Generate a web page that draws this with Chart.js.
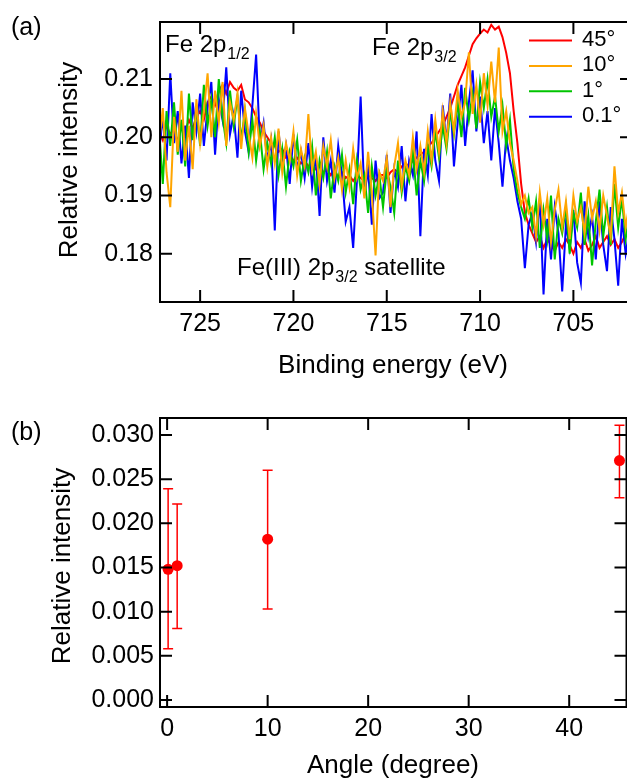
<!DOCTYPE html>
<html>
<head>
<meta charset="utf-8">
<script src="https://cdn.jsdelivr.net/npm/chart.js@4"></script>
<style>
  html, body { margin: 0; padding: 0; background: #fff; overflow: hidden; }
  #wrap { position: relative; width: 627px; height: 780px; overflow: hidden; }
  canvas { position: absolute; left: 0; }
  #spec { top: 0; }
  #sat { top: 390px; }
</style>
</head>
<body>
<div id="wrap">
  <canvas id="spec" width="632" height="390"></canvas>
  <canvas id="sat" width="632" height="390"></canvas>
</div>
<script>
// (a) Fe 2p spectra, binding energy in eV
const energy = [
  727.2,727.0,726.8,726.6,726.4,726.2,726.0,725.8,725.6,725.4,
  725.2,725.0,724.8,724.6,724.4,724.2,724.0,723.8,723.6,723.4,
  723.2,723.0,722.8,722.6,722.4,722.2,722.0,721.8,721.6,721.4,
  721.2,721.0,720.8,720.6,720.4,720.2,720.0,719.8,719.6,719.4,
  719.2,719.0,718.8,718.6,718.4,718.2,718.0,717.8,717.6,717.4,
  717.2,717.0,716.8,716.6,716.4,716.2,716.0,715.8,715.6,715.4,
  715.2,715.0,714.8,714.6,714.4,714.2,714.0,713.8,713.6,713.4,
  713.2,713.0,712.8,712.6,712.4,712.2,712.0,711.8,711.6,711.4,
  711.2,711.0,710.8,710.6,710.4,710.2,710.0,709.8,709.6,709.4,
  709.2,709.0,708.8,708.6,708.4,708.2,708.0,707.8,707.6,707.4,
  707.2,707.0,706.8,706.6,706.4,706.2,706.0,705.8,705.6,705.4,
  705.2,705.0,704.8,704.6,704.4,704.2,704.0,703.8,703.6,703.4,
  703.2,703.0,702.8,702.6,702.4,702.2,702.0
];

const int45 = [
  .2010,.1995,.2020,.2005,.2015,.1990,.2025,.2010,.2030,.2015,
  .2035,.2045,.2030,.2060,.2070,.2055,.2080,.2090,.2075,.2095,
  .2085,.2080,.2090,.2065,.2060,.2050,.2035,.2025,.2010,.2000,
  .1990,.1985,.1975,.1980,.1965,.1970,.1960,.1965,.1955,.1960,
  .1950,.1955,.1945,.1950,.1940,.1945,.1935,.1945,.1930,.1940,
  .1930,.1935,.1925,.1935,.1930,.1925,.1935,.1930,.1925,.1935,
  .1935,.1930,.1940,.1945,.1940,.1950,.1955,.1950,.1960,.1965,
  .1970,.1975,.1985,.1990,.2000,.2010,.2020,.2035,.2050,.2070,
  .2090,.2105,.2120,.2140,.2160,.2170,.2178,.2185,.2180,.2193,
  .2185,.2190,.2172,.2145,.2110,.2045,.1990,.1920,.1870,.1850,
  .1835,.1820,.1830,.1810,.1825,.1815,.1805,.1820,.1810,.1825,
  .1815,.1800,.1820,.1810,.1825,.1805,.1815,.1830,.1810,.1820,
  .1830,.1815,.1825,.1810,.1820,.1835,.1825
];

const int10 = [
  .1990,.2050,.1940,.1880,.2035,.1975,.2080,.1960,.2020,.1945,
  .2065,.1990,.2045,.2110,.2000,.2080,.2025,.2095,.1985,.2060,
  .2030,.2075,.1980,.2050,.2005,.1965,.2040,.1985,.2020,.1950,
  .2000,.1955,.2015,.1940,.1990,.1960,.2010,.1935,.1980,.1950,
  .2040,.1945,.1975,.1920,.1985,.1950,.1995,.1930,.1965,.1910,
  .1960,.1915,.1980,.1930,.1955,.1895,.1975,.1905,.1797,.1940,
  .1925,.1965,.1880,.1950,.1990,.1915,.1960,.1935,.2000,.1945,
  .1985,.1940,.2010,.1960,.2030,.1975,.2045,.1990,.2060,.2010,
  .2080,.2035,.2060,.2146,.2040,.2090,.2025,.2110,.2055,.2130,
  .2060,.2154,.2010,.2045,.1990,.1960,.1925,.1885,.1900,.1870,
  .1880,.1830,.1905,.1850,.1895,.1820,.1875,.1910,.1845,.1890,
  .1825,.1900,.1855,.1880,.1835,.1915,.1860,.1890,.1840,.1900,
  .1865,.1830,.1950,.1870,.1905,.1845,.1885
];

const int1 = [
  .2015,.1920,.2045,.1985,.2060,.1970,.2030,.1950,.2075,.1995,
  .2050,.1985,.2090,.2020,.2065,.2000,.2100,.2035,.1990,.2080,
  .2020,.2070,.1995,.2045,.1975,.2030,.1960,.2010,.1945,.1990,
  .1955,.2000,.1935,.1980,.1915,.1975,.1950,.1995,.1925,.1965,
  .1940,.1985,.1900,.1960,.1930,.1975,.1895,.1950,.1925,.1970,
  .1905,.1945,.1885,.1960,.1910,.1935,.1870,.1950,.1900,.1935,
  .1880,.1945,.1915,.1870,.1960,.1905,.1950,.1925,.1975,.1900,
  .1960,.1925,.1985,.1950,.2010,.1965,.2020,.1980,.2045,.2005,
  .2060,.2000,.2085,.2030,.2075,.2015,.2095,.2050,.2100,.2035,
  .2070,.2010,.2055,.1985,.2030,.1945,.1905,.1880,.1860,.1895,
  .1845,.1890,.1810,.1875,.1825,.1900,.1790,.1860,.1835,.1880,
  .1800,.1870,.1845,.1905,.1815,.1865,.1780,.1855,.1910,.1830,
  .1880,.1815,.1920,.1845,.1895,.1825,.1870
];

const int01 = [
  .1975,.2035,.1960,.2110,.1990,.2045,.1955,.2020,.1930,.2060,
  .2010,.2075,.1985,.2050,.2095,.1970,.2065,.2030,.2120,.2005,
  .2040,.1965,.2080,.2010,.1975,.2055,.2142,.1990,.2025,.1960,
  .1995,.1840,.2010,.1950,.1985,.1920,.2005,.1945,.1975,.1930,
  .1990,.1915,.1970,.1865,.2000,.1925,.1960,.1905,.1985,.1935,
  .1855,.1880,.1810,.1925,.2070,.1900,.1945,.1850,.1960,.1895,
  .1905,.1970,.1870,.1945,.1915,.1985,.1890,.1960,.1935,.2010,
  .1830,.1980,.1935,.2040,.1960,.1925,.2055,.1990,.2075,.1950,
  .2025,.2090,.1985,.2060,.2115,.2010,.2070,.1990,.2045,.1960,
  .2050,.1990,.1915,.2000,.1960,.1930,.1890,.1860,.1775,.1850,
  .1870,.1820,.1895,.1730,.1860,.1790,.1880,.1835,.1735,.1850,
  .1810,.1875,.1785,.1750,.1890,.1830,.1865,.1790,.1890,.1815,
  .1770,.1880,.1825,.1745,.1860,.1800,.1840
];

const energyTicks = [725, 720, 715, 710, 705];
const specTicks = [0.18, 0.19, 0.20, 0.21];

// (b) satellite intensity vs angle
const angleDeg = [0.1, 1, 10, 45];
const satIntensity = [0.0148, 0.0152, 0.0182, 0.0271];
const satLow = [0.0058, 0.0081, 0.0103, 0.0229];
const satHigh = [0.0239, 0.0222, 0.0260, 0.0311];
const angleTicks = [0, 10, 20, 30, 40];
const satTicks = [0, 0.005, 0.010, 0.015, 0.020, 0.025, 0.030];

const FONT = '"Liberation Sans", Arial, Helvetica, sans-serif';
Chart.defaults.font.family = FONT;
Chart.defaults.color = '#000';

function xy(xs, ys) {
  return xs.map((v, i) => ({ x: v, y: ys[i] }));
}

function axis(min, max, values, fmt, size, pad, extra) {
  return Object.assign({
    type: 'linear',
    min: min,
    max: max,
    grid: { display: false, drawTicks: false },
    border: { display: false },
    ticks: { font: { size: 25 }, color: '#000', padding: pad, callback: fmt, maxRotation: 0 },
    afterBuildTicks: s => { s.ticks = values.map(v => ({ value: v })); },
    afterFit: s => { if (s.isHorizontal()) s.height = size; else s.width = size; }
  }, extra || {});
}

// box with inward ticks on all four sides
const boxTicks = {
  id: 'boxTicks',
  afterDraw(chart) {
    const { ctx, chartArea: a } = chart;
    const x = chart.scales.x, y = chart.scales.y;
    const len = 12;
    ctx.save();
    ctx.strokeStyle = '#000';
    ctx.lineWidth = 2;
    ctx.beginPath();
    x.ticks.forEach(t => {
      const px = x.getPixelForValue(t.value);
      ctx.moveTo(px, a.bottom); ctx.lineTo(px, a.bottom - len);
      ctx.moveTo(px, a.top); ctx.lineTo(px, a.top + len);
    });
    y.ticks.forEach(t => {
      const py = y.getPixelForValue(t.value);
      ctx.moveTo(a.left, py); ctx.lineTo(a.left + len, py);
      ctx.moveTo(a.right, py); ctx.lineTo(a.right - len, py);
    });
    ctx.stroke();
    ctx.strokeRect(a.left, a.top, a.right - a.left, a.bottom - a.top);
    ctx.restore();
  }
};

function text(ctx, s, x, y, size, align) {
  ctx.font = size + 'px ' + FONT;
  ctx.textAlign = align || 'left';
  ctx.textBaseline = 'alphabetic';
  ctx.fillStyle = '#000';
  ctx.fillText(s, x, y);
  return ctx.measureText(s).width;
}

function vtitle(ctx, s, x, y, size) {
  ctx.save();
  ctx.translate(x, y);
  ctx.rotate(-Math.PI / 2);
  text(ctx, s, 0, 0, size, 'center');
  ctx.restore();
}

// main text + subscript (+ optional tail)
function subText(ctx, main, sub, tail, x, y) {
  let w = text(ctx, main, x, y, 24);
  w += 1;
  w += text(ctx, sub, x + w, y + 7, 16);
  if (tail) text(ctx, tail, x + w, y, 24);
}

const specText = {
  id: 'specText',
  afterDraw(chart) {
    const ctx = chart.ctx;
    text(ctx, '(a)', 11, 35, 25);
    vtitle(ctx, 'Relative intensity', 77, 160, 26);
    text(ctx, 'Binding energy (eV)', 393, 373, 26, 'center');
    subText(ctx, 'Fe 2p', '1/2', null, 165, 52);
    subText(ctx, 'Fe 2p', '3/2', null, 372, 55);
    subText(ctx, 'Fe(III) 2p', '3/2', ' satellite', 237, 275);

    // legend
    ctx.save();
    chart.data.datasets.forEach((ds, i) => {
      const ly = 40 + i * 25.4;
      ctx.strokeStyle = ds.borderColor;
      ctx.lineWidth = 2;
      ctx.beginPath();
      ctx.moveTo(529, ly + 0.5); ctx.lineTo(572, ly + 0.5);
      ctx.stroke();
      ctx.font = '22px ' + FONT;
      ctx.fillStyle = '#000';
      ctx.textAlign = 'left';
      ctx.textBaseline = 'middle';
      ctx.fillText(ds.label, 582, ly);
    });
    ctx.restore();
  }
};

new Chart(document.getElementById('spec'), {
  type: 'line',
  data: {
    datasets: [
      { label: '45°', data: xy(energy, int45), borderColor: '#ff0000', order: 4 },
      { label: '10°', data: xy(energy, int10), borderColor: '#ffa500', order: 1 },
      { label: '1°', data: xy(energy, int1), borderColor: '#00c400', order: 2 },
      { label: '0.1°', data: xy(energy, int01), borderColor: '#0000ff', order: 3 }
    ]
  },
  options: {
    responsive: false,
    animation: false,
    layout: { padding: { top: 17, left: 0, right: 0, bottom: 0 } },
    elements: { point: { radius: 0 }, line: { borderWidth: 2, tension: 0 } },
    plugins: { legend: { display: false }, tooltip: { enabled: false } },
    scales: {
      x: axis(701.86, 727.15, energyTicks, v => String(v), 88, 7, { reverse: true }),
      y: axis(0.1717, 0.2198, specTicks, v => v.toFixed(2), 160, 7)
    }
  },
  plugins: [boxTicks, specText]
});

const errBars = {
  id: 'errBars',
  beforeDatasetsDraw(chart) {
    const { ctx } = chart;
    const x = chart.scales.x, y = chart.scales.y;
    ctx.save();
    ctx.strokeStyle = '#ff0000';
    ctx.lineWidth = 1.5;
    ctx.beginPath();
    angleDeg.forEach((a, i) => {
      const px = x.getPixelForValue(a);
      const lo = y.getPixelForValue(satLow[i]);
      const hi = y.getPixelForValue(satHigh[i]);
      ctx.moveTo(px, lo); ctx.lineTo(px, hi);
      ctx.moveTo(px - 5, lo); ctx.lineTo(px + 5, lo);
      ctx.moveTo(px - 5, hi); ctx.lineTo(px + 5, hi);
    });
    ctx.stroke();
    ctx.restore();
  }
};

const satText = {
  id: 'satText',
  afterDraw(chart) {
    const ctx = chart.ctx;
    text(ctx, '(b)', 11, 50, 25);
    vtitle(ctx, 'Relative intensity', 70, 176, 26);
    text(ctx, 'Angle (degree)', 393, 383, 26, 'center');
  }
};

new Chart(document.getElementById('sat'), {
  type: 'scatter',
  data: {
    datasets: [{
      label: 'satellite',
      data: xy(angleDeg, satIntensity),
      backgroundColor: '#ff0000',
      borderWidth: 0,
      pointRadius: 5.5
    }]
  },
  options: {
    responsive: false,
    animation: false,
    layout: { padding: { top: 28, left: 0, right: 0, bottom: 0 } },
    plugins: { legend: { display: false }, tooltip: { enabled: false } },
    scales: {
      x: axis(-0.708, 45.70, angleTicks, v => String(v), 73, 7),
      y: axis(-0.00079, 0.03192, satTicks, v => v.toFixed(3), 160, 6)
    }
  },
  plugins: [errBars, boxTicks, satText]
});
</script>
</body>
</html>
